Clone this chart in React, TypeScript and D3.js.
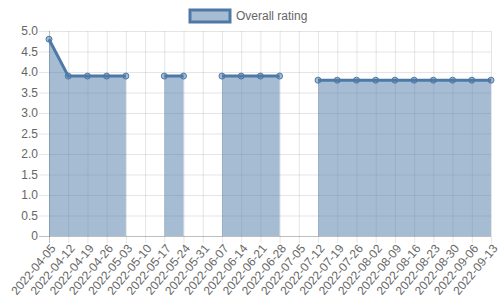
import React from 'react';
import * as d3 from 'd3';

const labels: string[] = [
  '2022-04-05', '2022-04-12', '2022-04-19', '2022-04-26', '2022-05-03', '2022-05-10',
  '2022-05-17', '2022-05-24', '2022-05-31', '2022-06-07', '2022-06-14', '2022-06-21',
  '2022-06-28', '2022-07-05', '2022-07-12', '2022-07-19', '2022-07-26', '2022-08-02',
  '2022-08-09', '2022-08-16', '2022-08-23', '2022-08-30', '2022-09-06', '2022-09-13',
];
const ratings: (number | null)[] = [
  4.8, 3.9, 3.9, 3.9, 3.9, null,
  3.9, 3.9, null, 3.9, 3.9, 3.9,
  3.9, null, 3.8, 3.8, 3.8, 3.8,
  3.8, 3.8, 3.8, 3.8, 3.8, 3.8,
];
const yTicks: number[] = [0, 0.5, 1, 1.5, 2, 2.5, 3, 3.5, 4, 4.5, 5];
const seriesName = 'Overall rating';

const W = 500, H = 300;
const left = 49, right = 491, top = 31, bottom = 236;
const lineColor = '#4e79a7';
const fillColor = 'rgba(78,121,167,0.5)';
const font = 'Arial, "Liberation Sans", Helvetica, sans-serif';

export default function App() {
  const x = d3.scalePoint<number>().domain(labels.map((_, i) => i)).range([left, right]);
  const y = d3.scaleLinear().domain([0, 5]).range([bottom, top]);
  const pts = ratings.map((v, i) => ({ i, v }));
  const area = d3.area<{ i: number; v: number | null }>()
    .defined(d => d.v != null)
    .x(d => x(d.i)!)
    .y0(y(0))
    .y1(d => y(d.v as number));
  const line = d3.line<{ i: number; v: number | null }>()
    .defined(d => d.v != null)
    .x(d => x(d.i)!)
    .y(d => y(d.v as number));

  return (
    <svg width={W} height={H} style={{ position: 'absolute', left: 0, top: 0 }} fontFamily={font}>
      <rect width={W} height={H} fill="#fff" />
      {/* horizontal grid */}
      {yTicks.map(t => (
        <g key={'y' + t}>
          <line x1={left - 10} x2={right} y1={y(t) + 0.5} y2={y(t) + 0.5}
            stroke={t === 0 ? 'rgba(0,0,0,0.25)' : 'rgba(0,0,0,0.1)'} strokeWidth={1} />
          <text x={left - 11} y={y(t)} dy="0.35em" textAnchor="end" fontSize={12} fill="#666">
            {t === 0 ? '0' : t.toFixed(1)}
          </text>
        </g>
      ))}
      {/* vertical grid */}
      {labels.map((l, i) => (
        <g key={'x' + l}>
          <line x1={x(i)! + 0.5} x2={x(i)! + 0.5} y1={top} y2={bottom + 7}
            stroke={i === 0 ? 'rgba(0,0,0,0.25)' : 'rgba(0,0,0,0.1)'} strokeWidth={1} />
          <text transform={`translate(${x(i)! + 4},${bottom + 10}) rotate(-50)`}
            textAnchor="end" dy="0.35em" fontSize={12} fill="#666">{l}</text>
        </g>
      ))}
      <path d={area(pts) || ''} fill={fillColor} />
      <path d={line(pts) || ''} fill="none" stroke={lineColor} strokeWidth={3} strokeLinejoin="miter" />
      {pts.filter(p => p.v != null).map(p => (
        <circle key={'p' + p.i} cx={x(p.i)!} cy={y(p.v as number)} r={3}
          fill={fillColor} stroke={lineColor} strokeWidth={1} />
      ))}
      {/* legend */}
      <rect x={190} y={10} width={40} height={12} fill={fillColor} stroke={lineColor} strokeWidth={3} />
      <text x={236} y={16} dy="0.35em" fontSize={12} fill="#666">{seriesName}</text>
    </svg>
  );
}
